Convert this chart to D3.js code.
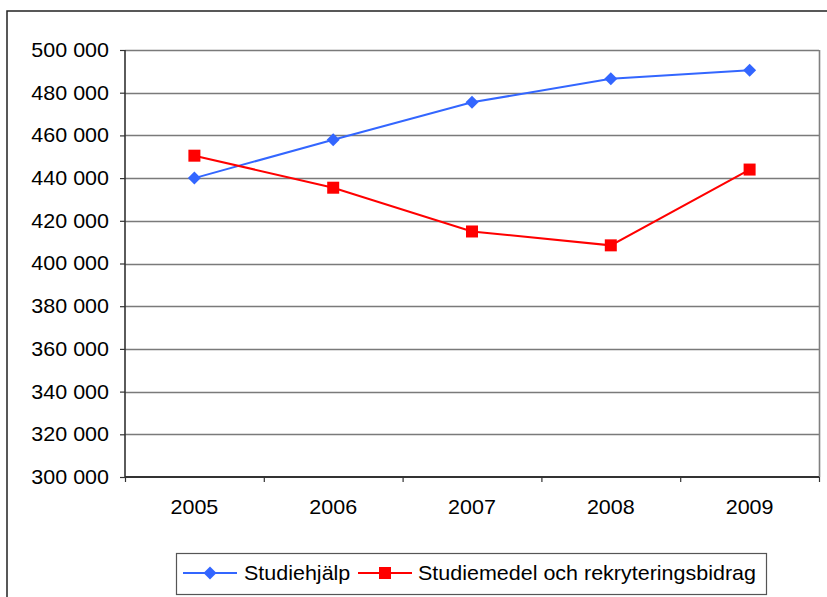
<!DOCTYPE html>
<html><head><meta charset="utf-8">
<script src="https://cdn.jsdelivr.net/npm/d3@7"></script>
<style>
html,body{margin:0;padding:0;background:#fff;}
svg{display:block;font-family:"Liberation Sans",Arial,sans-serif;}
</style></head>
<body>
<svg id="chart" width="827" height="597"></svg>
<script>
const years = ["2005","2006","2007","2008","2009"];
const studiehjalp = [440000, 458000, 475500, 486500, 490500];
const studiemedel = [450500, 435500, 415000, 408500, 444000];
const seriesNames = ["Studiehjälp", "Studiemedel och rekryteringsbidrag"];
const yTickValues = [300000,320000,340000,360000,380000,400000,420000,440000,460000,480000,500000];

(function(){
const svg = d3.select("#chart");
const fontSize = 20;
const stretch = 1.075;
const pL = 125, pR = 819, pT = 50, pB = 477;
const widen = sel => sel.attr("transform", function(){
  const ax = +this.getAttribute("x") || 0;
  return `translate(${ax},0) scale(${stretch},1) translate(${-ax},0)`;
});

// outer frame (cut off at right and bottom)
svg.append("rect").attr("x",7).attr("y",11).attr("width",900).attr("height",700)
  .attr("fill","none").attr("stroke","#222").attr("stroke-width",1.5);

const x = d3.scaleBand().domain(years).range([pL,pR]).paddingInner(0).paddingOuter(0);
const y = d3.scaleLinear().domain([300000,500000]).range([pB,pT]);
const fmt = d3.formatLocale({decimal:",",thousands:" ",grouping:[3],currency:["",""]}).format(",");

// gridlines
svg.append("g").selectAll("line").data(yTickValues.filter(v=>v>300000)).join("line")
  .attr("x1",pL).attr("x2",pR).attr("y1",d=>Math.round(y(d))+0.5).attr("y2",d=>Math.round(y(d))+0.5)
  .attr("stroke","#7a7a7a").attr("stroke-width",1.6);
// right border of plot
svg.append("line").attr("x1",pR+0.5).attr("x2",pR+0.5).attr("y1",pT).attr("y2",pB)
  .attr("stroke","#808080").attr("stroke-width",1.6);

// y axis
const yAxis = d3.axisLeft(y).tickValues(yTickValues).tickSize(5).tickPadding(11).tickFormat(fmt);
const gy = svg.append("g").attr("transform",`translate(${pL},0)`).call(yAxis);
gy.select(".domain").attr("stroke","#333").attr("stroke-width",1.6).attr("d",`M0,${pT}V${pB}`);
gy.selectAll(".tick line").attr("stroke","#333").attr("stroke-width",1.2);
gy.selectAll(".tick text").attr("font-size",fontSize).attr("fill","#000").attr("font-family","Liberation Sans, Arial, sans-serif").call(widen);

// x axis
const xAxis = d3.axisBottom(x).tickSize(0).tickPadding(23);
const gx = svg.append("g").attr("transform",`translate(0,${pB})`).call(xAxis);
gx.select(".domain").attr("stroke","#333").attr("stroke-width",1.8).attr("d",`M${pL},0H${pR}`);
gx.selectAll(".tick text").attr("font-size",fontSize).attr("fill","#000").attr("font-family","Liberation Sans, Arial, sans-serif").call(widen);
// category boundary ticks
const bounds = years.map(d=>x(d)).concat([x(years[years.length-1])+x.bandwidth()]);
gx.append("g").selectAll("line").data(bounds).join("line")
  .attr("x1",d=>d+0.5).attr("x2",d=>d+0.5).attr("y1",0).attr("y2",5)
  .attr("stroke","#333").attr("stroke-width",1.2);

const cx = d => x(d) + x.bandwidth()/2;
const line = d3.line().x((d,i)=>cx(years[i])).y(d=>y(d));

const blue = "#3366FF", red = "#FF0000";
svg.append("path").datum(studiehjalp).attr("d",line).attr("fill","none").attr("stroke",blue).attr("stroke-width",2);
svg.append("path").datum(studiemedel).attr("d",line).attr("fill","none").attr("stroke",red).attr("stroke-width",2);

const diamond = (cxp,cyp,r)=>`M${cxp},${cyp-r}L${cxp+r},${cyp}L${cxp},${cyp+r}L${cxp-r},${cyp}Z`;
svg.append("g").selectAll("path").data(studiehjalp).join("path")
  .attr("d",(d,i)=>diamond(cx(years[i]),y(d),6.5)).attr("fill",blue);
svg.append("g").selectAll("rect").data(studiemedel).join("rect")
  .attr("x",(d,i)=>cx(years[i])-6).attr("y",d=>y(d)-6).attr("width",12).attr("height",12).attr("fill",red);

// legend
const lg = svg.append("g");
lg.append("rect").attr("x",176.5).attr("y",553.5).attr("width",590).attr("height",41)
  .attr("fill","#fff").attr("stroke","#555").attr("stroke-width",1.2);
const ly = 573;
lg.append("line").attr("x1",183).attr("x2",237).attr("y1",ly).attr("y2",ly).attr("stroke",blue).attr("stroke-width",2);
lg.append("path").attr("d",diamond(210,ly,6.5)).attr("fill",blue);
lg.append("text").attr("x",244).attr("y",ly).attr("dy","0.35em").attr("font-size",fontSize).text(seriesNames[0]).call(widen);
lg.append("line").attr("x1",358).attr("x2",412).attr("y1",ly).attr("y2",ly).attr("stroke",red).attr("stroke-width",2);
lg.append("rect").attr("x",379).attr("y",ly-6).attr("width",12).attr("height",12).attr("fill",red);
lg.append("text").attr("x",418).attr("y",ly).attr("dy","0.35em").attr("font-size",fontSize).text(seriesNames[1]).call(widen);
})();
</script>
</body></html>
